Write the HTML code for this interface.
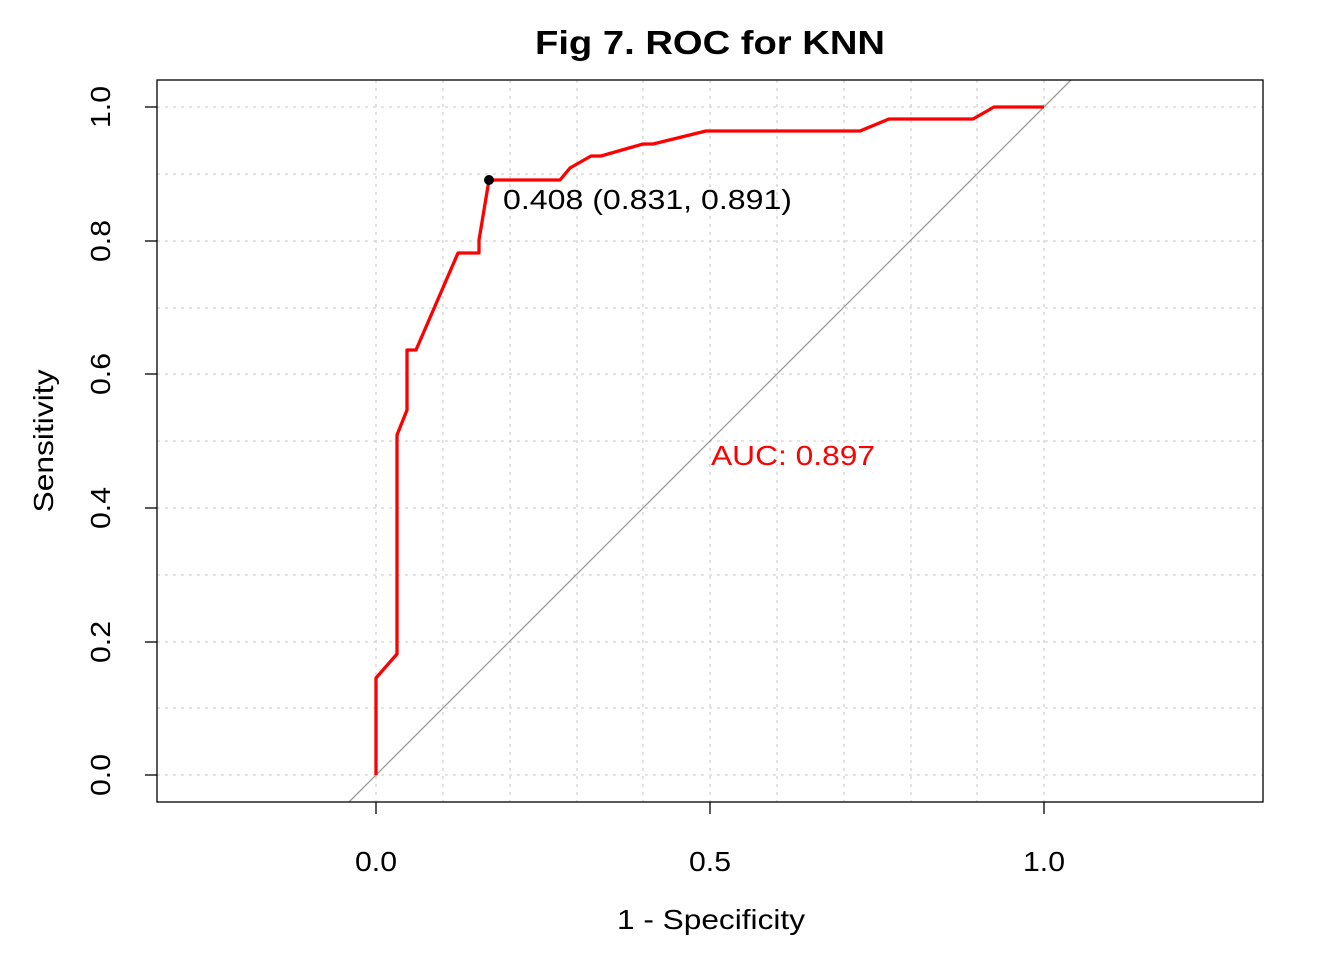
<!DOCTYPE html>
<html><head><meta charset="utf-8"><style>body{margin:0;background:#fff}svg{display:block}</style></head>
<body>
<svg width="1344" height="960" xmlns="http://www.w3.org/2000/svg" font-family="Liberation Sans, Arial, sans-serif">
<rect width="1344" height="960" fill="#fff"/>
<g stroke="#d3d3d3" stroke-width="1.3" stroke-dasharray="3,5">
<line x1="376" y1="80" x2="376" y2="802"/><line x1="443" y1="80" x2="443" y2="802"/><line x1="510" y1="80" x2="510" y2="802"/><line x1="577" y1="80" x2="577" y2="802"/><line x1="643" y1="80" x2="643" y2="802"/><line x1="710" y1="80" x2="710" y2="802"/><line x1="777" y1="80" x2="777" y2="802"/><line x1="844" y1="80" x2="844" y2="802"/><line x1="911" y1="80" x2="911" y2="802"/><line x1="977" y1="80" x2="977" y2="802"/><line x1="1044" y1="80" x2="1044" y2="802"/>
<line x1="157" y1="775" x2="1263" y2="775"/><line x1="157" y1="708" x2="1263" y2="708"/><line x1="157" y1="642" x2="1263" y2="642"/><line x1="157" y1="575" x2="1263" y2="575"/><line x1="157" y1="508" x2="1263" y2="508"/><line x1="157" y1="441" x2="1263" y2="441"/><line x1="157" y1="374" x2="1263" y2="374"/><line x1="157" y1="308" x2="1263" y2="308"/><line x1="157" y1="241" x2="1263" y2="241"/><line x1="157" y1="174" x2="1263" y2="174"/><line x1="157" y1="107" x2="1263" y2="107"/>
</g>
<line x1="349" y1="802" x2="1071" y2="80" stroke="#999" stroke-width="1.3"/>
<polyline fill="none" stroke="#ff0000" stroke-width="3.3" stroke-linejoin="round" points="376,775 376,678 397,654 397,435 407,410 407,350 416,350 458,253 479,253 479,240 489,180 560,180 570,168 591,156 601,156 643,144 653,144 706,131 860,131 889,119 973,119 994,107 1044,107"/>
<circle cx="489" cy="180" r="5" fill="#000"/>
<rect x="157" y="80" width="1106" height="722" fill="none" stroke="#000" stroke-width="1.3"/>
<g stroke="#000" stroke-width="1.3">
<line x1="376" y1="802" x2="376" y2="814"/><line x1="710" y1="802" x2="710" y2="814"/><line x1="1044" y1="802" x2="1044" y2="814"/>
<line x1="145" y1="775" x2="157" y2="775"/><line x1="145" y1="642" x2="157" y2="642"/><line x1="145" y1="508" x2="157" y2="508"/><line x1="145" y1="374" x2="157" y2="374"/><line x1="145" y1="241" x2="157" y2="241"/><line x1="145" y1="107" x2="157" y2="107"/>
</g>
<g font-size="28" text-anchor="middle" fill="#000" lengthAdjust="spacingAndGlyphs">
<text x="376" y="871" textLength="42" lengthAdjust="spacingAndGlyphs">0.0</text><text x="710" y="871" textLength="42" lengthAdjust="spacingAndGlyphs">0.5</text><text x="1044" y="871" textLength="42" lengthAdjust="spacingAndGlyphs">1.0</text>
<text transform="translate(110,775) rotate(-90)" textLength="42" lengthAdjust="spacingAndGlyphs">0.0</text>
<text transform="translate(110,642) rotate(-90)" textLength="42" lengthAdjust="spacingAndGlyphs">0.2</text>
<text transform="translate(110,508) rotate(-90)" textLength="42" lengthAdjust="spacingAndGlyphs">0.4</text>
<text transform="translate(110,374) rotate(-90)" textLength="42" lengthAdjust="spacingAndGlyphs">0.6</text>
<text transform="translate(110,241) rotate(-90)" textLength="42" lengthAdjust="spacingAndGlyphs">0.8</text>
<text transform="translate(110,107) rotate(-90)" textLength="42" lengthAdjust="spacingAndGlyphs">1.0</text>
<text x="711" y="929" textLength="188" lengthAdjust="spacingAndGlyphs">1 - Specificity</text>
<text transform="translate(53,441) rotate(-90)" textLength="143" lengthAdjust="spacingAndGlyphs">Sensitivity</text>
<text x="710" y="54" font-weight="bold" font-size="33" textLength="350" lengthAdjust="spacingAndGlyphs">Fig 7. ROC for KNN</text>
</g>
<text x="503" y="209" font-size="28" textLength="289" lengthAdjust="spacingAndGlyphs">0.408 (0.831, 0.891)</text>
<text x="711" y="465" font-size="28" fill="#ff0000" textLength="164" lengthAdjust="spacingAndGlyphs">AUC: 0.897</text>
</svg>
</body></html>
